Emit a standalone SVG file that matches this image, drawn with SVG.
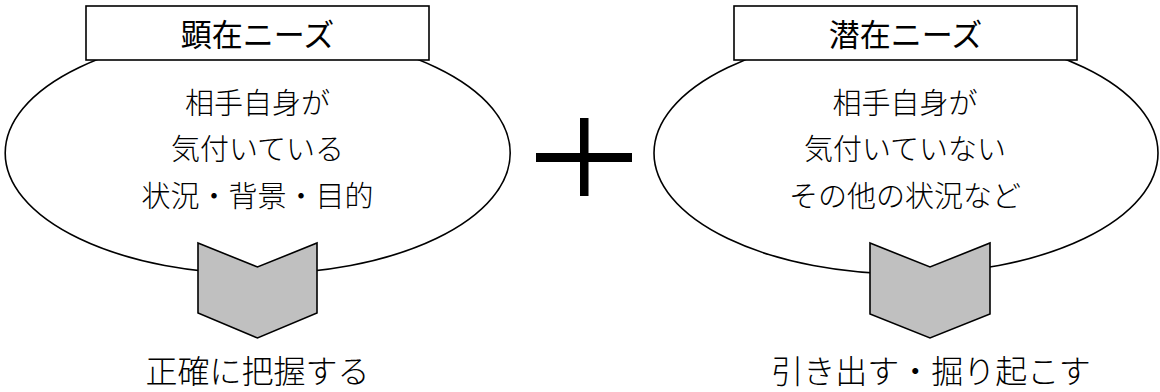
<svg xmlns="http://www.w3.org/2000/svg" width="1160" height="392" viewBox="0 0 1160 392">
<style>
.ell{fill:#fff;stroke:#000;stroke-width:1.6}
.box{fill:#fff;stroke:#000;stroke-width:1.6}
.chev{fill:#c0c0c0;stroke:#000;stroke-width:1.6;stroke-linejoin:miter}
text{font-family:"Noto Sans CJK JP","Noto Sans",sans-serif;fill:#000;text-anchor:middle;dominant-baseline:central}
.title{font-size:31px;font-weight:400}
.body{font-size:29px;font-weight:300}
.res{font-size:32px;font-weight:300}
</style>
<g id="node-left">
<ellipse class="ell" cx="257.7" cy="153" rx="252.5" ry="121"/>
<rect class="box" x="86" y="6" width="343" height="54"/>
<text class="title" x="257.5" y="32">顕在ニーズ</text>
<text class="body" x="257.5" y="101">相手自身が</text>
<text class="body" x="257.5" y="147">気付いている</text>
<text class="body" x="257.5" y="194">状況・背景・目的</text>
</g>
<g id="node-right">
<ellipse class="ell" cx="906" cy="153" rx="252" ry="121"/>
<rect class="box" x="734" y="6" width="343" height="54"/>
<text class="title" x="905.5" y="32">潜在ニーズ</text>
<text class="body" x="905" y="101">相手自身が</text>
<text class="body" x="905" y="147">気付いていない</text>
<text class="body" x="905" y="194">その他の状況など</text>
</g>
<g id="plus">
<rect x="536" y="153" width="96" height="9" fill="#000"/>
<rect x="580" y="118" width="8.5" height="78" fill="#000"/>
</g>
<g id="connectors">
<polygon class="chev" points="198,243 257.5,267 317,243 317,313 257.5,338 198,313"/>
<polygon class="chev" points="870,243 930,267 990,243 990,314 930,338 870,314"/>
</g>
<g id="result-left">
<text class="res" x="257.5" y="369">正確に把握する</text>
</g>
<g id="result-right">
<text class="res" x="931" y="369">引き出す・掘り起こす</text>
</g>
</svg>
